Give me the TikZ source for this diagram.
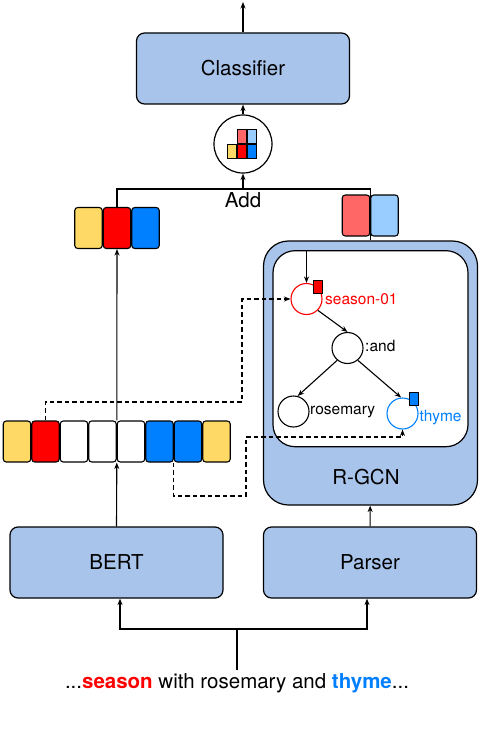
\documentclass[tikz,border=0pt]{standalone}
\usepackage{fontspec}
\setmainfont{TeX Gyre Heros}
\usetikzlibrary{positioning,arrows.meta}
\definecolor{boxblue}{HTML}{A9C4EB}
\definecolor{cellyellow}{HTML}{FFD966}
\definecolor{cellred}{HTML}{FF0000}
\definecolor{cellblue}{HTML}{007FFF}
\definecolor{lightred}{HTML}{FF6666}
\definecolor{lightblue}{HTML}{99CCFF}
\tikzstyle{block} = [rectangle, rounded corners=8pt, minimum width=213pt, minimum height=71pt, text centered, draw=black, line width=1.2pt, fill=boxblue, font=\fontsize{20.5}{24}\selectfont]
\tikzstyle{cell} = [rectangle, rounded corners=3pt, minimum width=27.5pt, minimum height=41pt, inner sep=0pt, draw=black, line width=1.1pt]
\tikzstyle{tinycell} = [rectangle, minimum width=9pt, minimum height=14.5pt, inner sep=0pt, draw=black, line width=0.7pt]
\tikzstyle{amr} = [circle, minimum size=31pt, inner sep=0pt, draw=black, line width=1.1pt]
\tikzstyle{amrlabel} = [anchor=base west, inner sep=1pt, font=\fontsize{15.5}{18}\selectfont]
\tikzstyle{arrow} = [line width=1.1pt, -{Stealth[length=6.5pt,width=5pt]}]
\tikzstyle{dasharrow} = [arrow, dash pattern=on 4.5pt off 3pt]

\begin{document}
\begin{tikzpicture}[x=1pt, y=-1pt]
	\useasboundingbox (0,0) rectangle (484,730);

	% blocks
	\node (classifier) [block] at (243,68.5) {Classifier};
	\node (bert) [block] at (116.5,562.5) {BERT};
	\node (parser) [block] at (370,562.5) {Parser};
	\node (rgcn) [block, minimum width=214pt, minimum height=264pt, rounded corners=25pt] at (370.5,373) {};
	\node (rgcnlabel) [font=\fontsize{20.5}{24}\selectfont] at (366,477) {R-GCN};
	\node (graphbox) [rectangle, rounded corners=22pt, minimum width=195pt, minimum height=196pt, draw=black, line width=1.2pt, fill=white] at (370.5,348.7) {};

	% add
	\node (add) [circle, minimum size=58pt, draw=black, line width=1.2pt] at (243,144) {};
	\node (sq1) [tinycell, fill=cellyellow] at (232,151.5) {};
	\node (sq2) [tinycell, fill=cellred] at (242,151.5) {};
	\node (sq3) [tinycell, fill=cellblue] at (252,151.5) {};
	\node (sq4) [tinycell, fill=lightred] at (242,136.5) {};
	\node (sq5) [tinycell, fill=lightblue] at (252,136.5) {};
	\coordinate (addpt) at (243,189);
	\node (addlabel) [below=0pt of addpt, font=\fontsize{20.5}{24}\selectfont] {Add};
	\coordinate (output) at (243,2);

	% vectors
	\foreach \c [count=\i] in {cellyellow,cellred,cellblue}
		\node (t\i) [cell, fill=\c] at ({60+28.5*\i},228) {};
	\foreach \c [count=\i] in {cellyellow,cellred,white,white,white,cellblue,cellblue,cellyellow}
		\node (m\i) [cell, fill=\c] at ({-11.5+28.5*\i},441.5) {};

	\draw [line width=1.1pt] (t2.north) |- (addpt) -| (rgcn.north);
	\node (r1) [cell, fill=lightred] at (356,215.5) {};
	\node (r2) [cell, fill=lightblue] at (384.5,215.5) {};

	% graph
	\node (season) [amr, draw=cellred] at (306.5,299) {};
	\node (seasonmark) [tinycell, fill=cellred, minimum height=13pt] at (318,286.5) {};
	\node (seasonlabel) [amrlabel, text=cellred] at (324,304) {season-01};
	\node (and) [amr] at (347.5,348) {};
	\node (andlabel) [amrlabel] at (364,351) {:and};
	\node (rosemary) [amr] at (293.5,411.5) {};
	\node (rosemarylabel) [amrlabel] at (309,414.5) {rosemary};
	\node (thyme) [amr, draw=cellblue] at (402.5,413.5) {};
	\node (thymemark) [tinycell, fill=cellblue, minimum height=13pt] at (413.5,399) {};
	\node (thymelabel) [amrlabel, text=cellblue] at (418.5,421.5) {thyme};

	\draw [arrow] (graphbox.north -| season.north) -- (season.north);
	\draw [arrow] (season.-45) -- (and.north);
	\draw [arrow] (and.-130) -- (rosemary.75);
	\draw [arrow] (and.-50) -- (thyme.95);

	% alignment
	\coordinate (dashA) at (242,402);
	\coordinate (dashB) at (246,496);
	\coordinate (dashC) at (246,437);
	\draw [dasharrow] (m2.north) |- (dashA) |- (season.west);
	\draw [dasharrow] (m6.south east) |- (dashB) -- (dashC) -| (thyme.south);

	% sentence
	\node (sentence) [font=\fontsize{20.5}{24}\selectfont] at (237,683) {...\textcolor{cellred}{\textbf{season}} with rosemary and \textcolor{cellblue}{\textbf{thyme}}...};
	\coordinate (split) at (237,629);

	\draw [arrow] (classifier.north) -- (output);
	\draw [arrow] (add) -- (classifier);
	\draw [arrow] (addpt) -- (add);
	\draw [arrow] (m4.north east) -- (t2.south);
	\draw [arrow] (bert.north) -- (m4.south east);
	\draw [arrow] (parser) -- (rgcn);
	\draw [line width=1.1pt] (sentence.north) -- (split);
	\draw [arrow] (split) -| ([xshift=3.5pt]bert.south);
	\draw [arrow] (split) -| ([xshift=-3pt]parser.south);

\end{tikzpicture}
\end{document}
